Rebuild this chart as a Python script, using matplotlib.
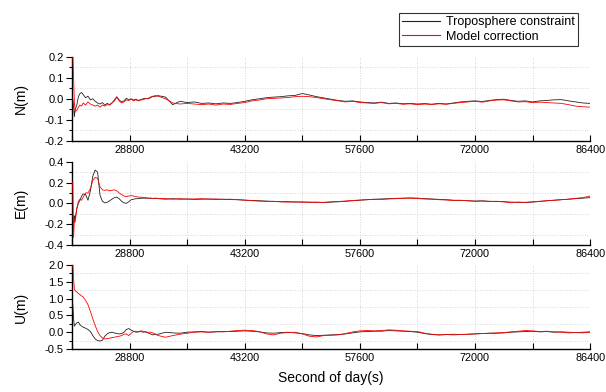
import numpy as np
import matplotlib
matplotlib.use("Agg")
import matplotlib.pyplot as plt
from matplotlib.ticker import MultipleLocator, FixedLocator

plt.rcParams['font.family'] = ['Liberation Sans', 'DejaVu Sans']
plt.rcParams['axes.unicode_minus'] = False

# time axis (second of day): dense at the start, 900 s steps afterwards
t_early = [21600, 21700, 21800, 21900, 22000, 22200, 22400, 22600, 22800, 23000,
           23300, 23600, 23900, 24200, 24500, 24800, 25100, 25400, 25700, 26000,
           26300, 26600, 26900, 27200, 27500, 27800, 28100, 28400, 28700, 29000,
           29300, 29600, 29900, 30200, 30500, 30800, 31100, 31400, 31700, 32000]
t_late = list(range(32400, 86401, 900))
t = np.array(t_early + t_late)

# N component (m)
n_tc = [0.0, 0.0, -0.04, -0.085, -0.05, -0.03, 0.01, 0.025, 0.03, 0.02,
        0.005, 0.012, -0.005, 0.0, -0.012, -0.02, -0.025, -0.018, -0.03, -0.022,
        -0.028, -0.02, -0.01, 0.008, -0.005, -0.015, -0.01, 0.002, -0.005, 0.0,
        -0.006, -0.002, -0.008, -0.004, 0.0, 0.002, 0.0, 0.005, 0.01, 0.012,
        0.015, 0.008, -0.028, -0.012, -0.018, -0.015, -0.022, -0.02, -0.024, -0.02,
        -0.022, -0.018, -0.012, -0.005, 0.0, 0.005, 0.008, 0.01, 0.014, 0.016,
        0.025, 0.018, 0.01, 0.004, -0.002, -0.008, -0.012, -0.01, -0.015, -0.018,
        -0.02, -0.016, -0.022, -0.02, -0.024, -0.022, -0.025, -0.023, -0.026, -0.022,
        -0.025, -0.02, -0.015, -0.012, -0.01, -0.013, -0.008, -0.004, -0.002, -0.008,
        -0.012, -0.01, -0.015, -0.01, -0.008, -0.005, -0.004, -0.01, -0.015, -0.02,
        -0.022]
n_mc = [0.22, 0.22, 0.1, -0.02, -0.06, -0.055, -0.04, -0.03, -0.035, -0.02,
        -0.03, -0.015, -0.025, -0.03, -0.035, -0.03, -0.04, -0.03, -0.035, -0.028,
        -0.03, -0.02, -0.005, 0.01, -0.01, -0.02, -0.015, -0.005, -0.008, -0.002,
        -0.01, -0.005, -0.01, -0.006, -0.004, 0.0, 0.002, 0.008, 0.012, 0.015,
        0.012, 0.0, -0.02, -0.025, -0.022, -0.025, -0.028, -0.025, -0.03, -0.025,
        -0.027, -0.022, -0.018, -0.01, -0.006, 0.0, 0.002, 0.004, 0.006, 0.01,
        0.012, 0.01, 0.006, 0.0, -0.005, -0.01, -0.015, -0.012, -0.018, -0.02,
        -0.022, -0.018, -0.024, -0.022, -0.026, -0.024, -0.028, -0.025, -0.027, -0.024,
        -0.026, -0.022, -0.018, -0.015, -0.012, -0.016, -0.01, -0.006, -0.005, -0.01,
        -0.015, -0.014, -0.018, -0.016, -0.018, -0.02, -0.022, -0.028, -0.035, -0.038,
        -0.04]

# E component (m)
e_tc = [-0.1, -0.1, -0.2, -0.12, -0.15, -0.05, 0.0, 0.03, 0.07, 0.09,
        0.085, 0.03, 0.12, 0.26, 0.32, 0.3, 0.08, 0.02, 0.005, 0.01,
        0.025, 0.04, 0.055, 0.06, 0.045, 0.02, 0.005, 0.0, 0.015, 0.035,
        0.04, 0.045, 0.045, 0.048, 0.05, 0.05, 0.048, 0.05, 0.045, 0.048,
        0.045, 0.04, 0.045, 0.04, 0.042, 0.038, 0.04, 0.042, 0.038, 0.04,
        0.036, 0.035, 0.03, 0.028, 0.025, 0.022, 0.018, 0.015, 0.016, 0.012,
        0.014, 0.01, 0.012, 0.008, 0.012, 0.015, 0.02, 0.025, 0.03, 0.035,
        0.038, 0.042, 0.045, 0.048, 0.05, 0.052, 0.05, 0.045, 0.042, 0.038,
        0.035, 0.03, 0.028, 0.025, 0.022, 0.024, 0.02, 0.018, 0.015, 0.012,
        0.01, 0.008, 0.012, 0.018, 0.025, 0.03, 0.035, 0.04, 0.045, 0.05,
        0.055]
e_mc = [0.2, 0.2, -0.33, -0.15, -0.18, -0.05, 0.02, 0.04, 0.03, 0.06,
        0.1, 0.1, 0.14, 0.22, 0.25, 0.24, 0.16, 0.13, 0.125, 0.13,
        0.12, 0.125, 0.13, 0.12, 0.1, 0.085, 0.07, 0.065, 0.07, 0.075,
        0.07, 0.065, 0.06, 0.06, 0.055, 0.055, 0.05, 0.05, 0.048, 0.05,
        0.048, 0.045, 0.04, 0.045, 0.04, 0.042, 0.045, 0.04, 0.042, 0.038,
        0.04, 0.035, 0.032, 0.025, 0.022, 0.018, 0.02, 0.015, 0.012, 0.015,
        0.01, 0.012, 0.008, 0.01, 0.015, 0.018, 0.022, 0.028, 0.032, 0.035,
        0.04, 0.038, 0.042, 0.045, 0.048, 0.05, 0.046, 0.042, 0.04, 0.035,
        0.032, 0.028, 0.03, 0.025, 0.02, 0.022, 0.018, 0.02, 0.015, 0.005,
        0.012, 0.01, 0.015, 0.02, 0.025, 0.03, 0.035, 0.04, 0.048, 0.055,
        0.07]

# U component (m)
u_tc = [0.85, 0.85, 0.4, 0.18, 0.22, 0.28, 0.3, 0.22, 0.18, 0.15,
        0.12, 0.08, 0.02, -0.1, -0.2, -0.25, -0.26, -0.24, -0.12, -0.05,
        -0.01, 0.0, -0.02, -0.04, -0.05, -0.04, 0.0, 0.08, 0.11, 0.06,
        0.03, 0.0, 0.01, 0.02, 0.0, 0.01, -0.02, -0.05, -0.08, -0.06,
        -0.06, 0.0, -0.02, -0.03, 0.0, 0.01, 0.02, 0.0, 0.01, 0.02,
        0.02, 0.03, 0.04, 0.03, 0.01, -0.02, -0.03, -0.01, 0.0, -0.02,
        -0.04, -0.08, -0.1, -0.09, -0.08, -0.07, -0.05, -0.02, 0.01, 0.02,
        0.03, 0.03, 0.05, 0.04, 0.03, 0.02, 0.0, -0.04, -0.07, -0.08,
        -0.07, -0.06, -0.07, -0.06, -0.05, -0.04, -0.03, -0.03, -0.02, 0.0,
        0.01, 0.02, 0.03, 0.01, 0.02, 0.0, 0.01, 0.0, -0.01, 0.0,
        0.01]
u_mc = [2.05, 2.05, 1.6, 1.27, 1.24, 1.2, 1.15, 1.12, 1.08, 1.05,
        0.95, 0.82, 0.62, 0.4, 0.2, 0.02, -0.1, -0.17, -0.2, -0.19,
        -0.18, -0.16, -0.15, -0.13, -0.12, -0.1, -0.06, -0.05, -0.1, -0.03,
        0.02, 0.03, 0.02, 0.04, 0.03, 0.01, 0.0, 0.0, -0.02, -0.06,
        -0.1, -0.15, -0.1, -0.06, -0.03, 0.0, 0.01, 0.0, 0.02, 0.01,
        0.03, 0.05, 0.06, 0.05, 0.02, -0.05, -0.08, -0.03, -0.01, 0.0,
        -0.05, -0.12, -0.14, -0.1, -0.09, -0.08, -0.04, 0.01, 0.04, 0.05,
        0.04, 0.05, 0.07, 0.06, 0.04, 0.03, 0.02, -0.03, -0.06, -0.08,
        -0.07, -0.08, -0.07, -0.06, -0.05, -0.04, -0.03, -0.02, -0.01, 0.01,
        0.03, 0.05, 0.04, 0.02, 0.03, 0.01, 0.0, -0.02, -0.01, -0.02,
        0.0]

panels = [
    ("N(m)", n_tc, n_mc, (-0.2, 0.2), 0.1, 0.05, "%.1f"),
    ("E(m)", e_tc, e_mc, (-0.4, 0.4), 0.2, 0.1, "%.1f"),
    ("U(m)", u_tc, u_mc, (-0.5, 2.0), 0.5, 0.25, "%.1f"),
]
# axes rectangles in figure fraction (left, bottom, width, height)
rects = [(0.1188, 0.641, 0.855, 0.214),
         (0.1188, 0.375, 0.855, 0.2125),
         (0.1188, 0.1097, 0.855, 0.214)]

fig = plt.figure(figsize=(6.06, 3.92), dpi=100)
axes = []
for (label, tc, mc, ylim, major, minor, fmt), rect in zip(panels, rects):
    ax = fig.add_axes(rect)
    # zorder above the spines so the start-up spikes show on the left axis
    l1, = ax.plot(t, tc, color='#222222', lw=0.6, zorder=3,
                  label='Troposphere constraint')
    l2, = ax.plot(t, mc, color='#ff0000', lw=0.6, zorder=3.1,
                  label='Model correction')
    ax.set_xlim(21600, 86400)
    ax.set_ylim(*ylim)
    ax.xaxis.set_major_locator(FixedLocator([28800, 43200, 57600, 72000, 86400]))
    ax.xaxis.set_minor_locator(MultipleLocator(7200))
    ax.yaxis.set_major_locator(MultipleLocator(major))
    ax.yaxis.set_minor_locator(MultipleLocator(minor))
    ax.yaxis.set_major_formatter(matplotlib.ticker.FormatStrFormatter(fmt))
    for s in ('top', 'right'):
        ax.spines[s].set_visible(False)
    for s in ('left', 'bottom'):
        ax.spines[s].set_linewidth(1.0)
    ax.tick_params(axis='x', which='major', direction='in', length=4, width=0.8,
                   labelsize=7.8, pad=3)
    ax.tick_params(axis='x', which='minor', direction='in', length=4, width=0.8)
    ax.tick_params(axis='y', which='major', direction='out', length=4, width=0.8,
                   labelsize=8, pad=2)
    ax.tick_params(axis='y', which='minor', direction='out', length=2.5, width=0.8)
    ax.grid(True, axis='x', which='both', color='#c8c8c8', lw=0.6, ls=(0, (1, 2)))
    ax.grid(True, axis='y', which='minor', color='#c8c8c8', lw=0.6, ls=(0, (1, 2)))
    ax.set_ylabel(label, fontsize=10)
    ax.yaxis.set_label_coords(-0.085, 0.5)
    axes.append(ax)

axes[-1].set_xlabel("Second of day(s)", fontsize=10, labelpad=6)

leg = fig.legend(handles=[l1, l2], loc='upper right',
                 bbox_to_anchor=(578 / 606, 1 - 13 / 392),
                 fontsize=9, frameon=True, fancybox=False, handlelength=3.0,
                 handletextpad=0.5, borderpad=0.25, labelspacing=0.2,
                 borderaxespad=0)
leg.get_frame().set_edgecolor('black')
leg.get_frame().set_linewidth(0.8)
for line in leg.get_lines():
    line.set_linewidth(0.8)

fig.savefig("out.png", dpi=100)
